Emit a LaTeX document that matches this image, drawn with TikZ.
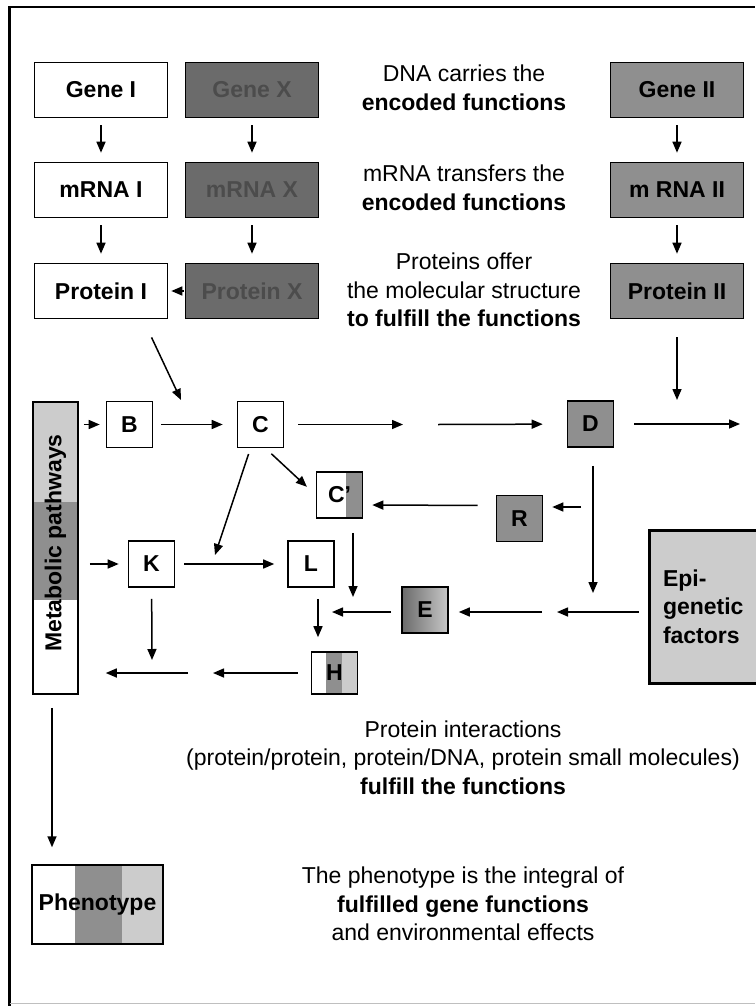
\documentclass[tikz,border=0pt]{standalone}
\usepackage{fontspec}
\setmainfont{Liberation Sans}
\usetikzlibrary{arrows.meta,positioning}
\definecolor{noisegray}{gray}{0.42}
\definecolor{midgray}{gray}{0.56}
\definecolor{palegray}{gray}{0.80}

\tikzset{
  arr/.style={-{Triangle[length=11pt,width=9pt]},line width=1.5pt},
  box/.style={draw,line width=1.6pt,minimum width=133pt,minimum height=55pt,inner sep=0pt,font=\fontsize{23}{28}\selectfont\bfseries},
  boxx/.style={box,fill=noisegray,text=black!70},
  boxii/.style={box,fill=midgray},
  sq/.style={draw,line width=1.6pt,minimum size=46pt,inner sep=0pt,font=\fontsize{23}{27}\selectfont\bfseries},
  caption/.style={align=center,font=\fontsize{23}{28.5}\selectfont}
}

\begin{document}
\begin{tikzpicture}[x=1pt,y=-1pt]
\useasboundingbox (0,0) rectangle (755,1006);
% frame
\draw[line width=2.5pt] (9.5,1006) -- (9.5,7) -- (755,7);
\draw[gray!50,line width=1pt] (9.5,1003) -- (755,1003);

% gene -> mRNA -> protein
\node[box] (genei) at (101,90) {Gene I};
\node[boxx] (genex) at (252,90) {Gene X};
\node[boxii] (geneii) at (677,90) {Gene II};
\node[box] (mrnai) at (101,190) {mRNA I};
\node[boxx] (mrnax) at (252,190) {mRNA X};
\node[boxii] (mrnaii) at (677,190) {m RNA II};
\node[box] (proti) at (101,291) {Protein I};
\node[boxx] (protx) at (252,291) {Protein X};
\node[boxii] (protii) at (677,291) {Protein II};
\foreach \a/\b in {genei/mrnai,genex/mrnax,geneii/mrnaii,mrnai/proti,mrnax/protx,mrnaii/protii}
  \draw[arr,shorten <=7pt,shorten >=9pt] (\a) -- (\b);
\draw[arr,shorten <=1pt,shorten >=3pt] (protx) -- (proti);

\node[caption] (dna) at (464,88) {DNA carries the\\\textbf{encoded functions}};
\node[caption] (rna) at (464,188) {mRNA transfers the\\\textbf{encoded functions}};
\node[caption] (prot) at (464,290) {Proteins offer\\the molecular structure\\\textbf{to fulfill the functions}};

% metabolic pathways bar
\fill[palegray] (33,402) rectangle (78,502);
\fill[midgray] (33,502) rectangle (78,600);
\node[draw,line width=1.5pt,minimum width=45pt,minimum height=292pt,inner sep=0pt] (metab) at (55.5,548) {};
\node[rotate=90,font=\fontsize{23}{28}\selectfont\bfseries] (metabtxt) at (55.5,543) {Metabolic pathways};

% interacting proteins
\node[sq] (b) at (129.5,424.5) {B};
\node[sq] (c) at (260.5,424.5) {C};
\node[sq,fill=midgray] (d) at (590.5,424) {D};
\node[sq,path picture={\fill[midgray] ([xshift=-17pt]path picture bounding box.north east) rectangle (path picture bounding box.south east);}] (cp) at (339.5,495) {C'};
\node[sq,fill=midgray] (r) at (519.5,518.5) {R};
\node[sq] (k) at (151.5,564) {K};
\node[sq] (l) at (311,564) {L};
\node[sq,left color=black!58,right color=black!22] (e) at (425,610) {E};
\node[sq,minimum height=42pt,path picture={
    \fill[midgray] ([xshift=14pt]path picture bounding box.north west) rectangle ([xshift=30pt]path picture bounding box.south west);
    \fill[palegray] ([xshift=30pt]path picture bounding box.north west) rectangle (path picture bounding box.south east);}] (h) at (334.5,673) {H};
\node[draw,line width=3pt,fill=palegray,minimum width=126pt,minimum height=153pt,inner xsep=14pt,text width=100pt,align=left,
  font=\fontsize{23}{28.5}\selectfont\bfseries] (epi) at (713,606.5) {Epi-\\genetic\\factors};

% free ends of the arrows
\coordinate (pin) at (181,400);
\coordinate (qin) at (677,400);
\coordinate (gapa) at (403,424.5);
\coordinate (gapb) at (438,424.5);
\coordinate (dout) at (740,424);
\coordinate (ck) at (215,555);
\coordinate (dd) at (593,593);
\coordinate (rin) at (581,507);
\coordinate (ea) at (557,612);
\coordinate (eb) at (542,612);
\coordinate (eh) at (332,612);
\coordinate (cd) at (353,597);
\coordinate (kd) at (152,660);
\coordinate (ha) at (213,673);
\coordinate (hb) at (188,673);

\draw[arr,shorten <=20pt] ([xshift=42pt]proti.south) -- (pin);
\draw[arr,shorten <=18pt] (protii.south) -- (qin);
\draw[arr,shorten <=5pt,shorten >=6pt] (metab.east |- b) -- (b);
\draw[arr,shorten <=8pt,shorten >=14pt] (b) -- (c);
\draw[arr,shorten <=14pt] (c) -- (gapa);
\draw[arr,shorten >=24pt] (gapb) -- (d);
\draw[arr,shorten <=20pt] (d) -- (dout);
\draw[arr,shorten <=8pt,shorten >=12pt] ([xshift=5pt]c.south) -- (cp.west);
\draw[arr,shorten <=6pt] ([xshift=-10pt]c.south) -- (ck);
\draw[arr,shorten <=11pt,shorten >=9pt] (metab.east |- k) -- (k);
\draw[arr,shorten <=9pt,shorten >=13pt] (k) -- (l);
\draw[arr,shorten <=18pt,shorten >=9pt] ([yshift=13pt]r.west) -- ([yshift=-10pt]cp.east);
\draw[arr,shorten <=18pt] ([xshift=2.5pt]d.south) -- (dd);
\draw[arr,shorten >=9pt] (rin) -- (r.east |- rin);
\draw[arr,shorten <=9pt] (epi.west |- ea) -- (ea);
\draw[arr,shorten >=10pt] (eb) -- (e.east |- eb);
\draw[arr,shorten <=10pt] (e.west |- eh) -- (eh);
\draw[arr,shorten <=14pt] ([xshift=13.5pt]cp.south) -- (cd);
\draw[arr,shorten <=11pt,shorten >=14pt] ([xshift=7pt]l.south) -- ([xshift=7pt]l.south |- h.north);
\draw[arr,shorten <=11pt] (k) -- (kd);
\draw[arr,shorten <=13pt] (h) -- (ha);
\draw[arr,shorten >=27pt] (hb) -- (metab.east |- hb);

% phenotype
\node[draw,line width=1.5pt,minimum width=131pt,minimum height=79pt,inner sep=0pt,font=\fontsize{23}{28}\selectfont\bfseries,
  path picture={
    \fill[midgray] ([xshift=43pt]path picture bounding box.north west) rectangle ([xshift=90pt]path picture bounding box.south west);
    \fill[palegray] ([xshift=90pt]path picture bounding box.north west) rectangle (path picture bounding box.south east);
  }] (pheno) at (97.5,904.5) {Phenotype};
\draw[arr,shorten <=13pt,shorten >=17pt] ([xshift=-3.5pt]metab.south) -- ([xshift=-3.5pt]metab.south |- pheno.north);

\node[caption] (inter) at (463,757.5) {Protein interactions\\(protein/protein, protein/DNA, protein small molecules)\\\textbf{fulfill the functions}};
\node[caption] (integral) at (463,904) {The phenotype is the integral of\\\textbf{fulfilled gene functions}\\and environmental effects};
\end{tikzpicture}
\end{document}
